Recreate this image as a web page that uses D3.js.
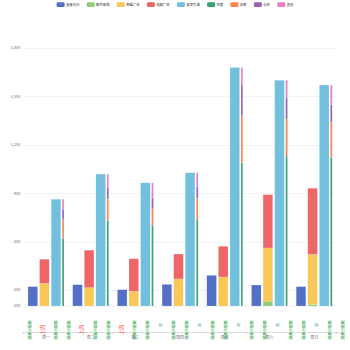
<!DOCTYPE html>
<html>
<head>
<meta charset="utf-8">
<script src="https://cdn.jsdelivr.net/npm/d3@7"></script>
<style>
  body { margin: 0; background: #fff; }
  text { font-family: "Noto Sans CJK SC", "DejaVu Sans", sans-serif; }
</style>
</head>
<body>
<div id="chart"></div>
<script>
// categories and series
const days = ['周一', '周二', '周三', '周四', '周五', '周六', '周日'];
const seriesNames = ['直接访问', '邮件营销', '联盟广告', '视频广告', '搜索引擎', '百度', '谷歌', '必应', '其他'];
const colors = ['#5470c6', '#91cc75', '#fac858', '#ee6666', '#73c0de', '#3ba272', '#fc8452', '#9a60b4', '#ea7ccc'];

const direct = [320, 332, 301, 334, 390, 330, 320];
const email = [120, 132, 101, 134, 90, 230, 210];
const union = [220, 182, 191, 234, 290, 330, 310];
const video = [150, 232, 201, 154, 190, 330, 410];
const search = [862, 1018, 964, 1026, 1679, 1600, 1570];
const baidu = [620, 732, 701, 734, 1090, 1130, 1120];
const google = [120, 132, 101, 134, 290, 230, 220];
const bing = [60, 72, 71, 74, 190, 130, 110];
const others = [62, 82, 91, 84, 109, 110, 120];

const yTicks = [200, 300, 600, 900, 1200, 1500, 1800];

// the odd rotated labels under the bars (g = long green, r = red, s = short green)
const extraKinds = ['g','r','g','g','r','g','g','r','g','g','s','g','g','s','g','g','s','g','g','s','g','g','s','g','g'];
const extraText = {g: '星期一星期', r: '上周', s: '周'};

const W = 350, H = 350;
const svg = d3.select('#chart').append('svg').attr('width', W).attr('height', H);

const y = d3.scaleLinear().domain([200, 1800]).range([306, 48]);
const x = d3.scaleBand().domain(days).range([23.6, 336.5]);
const cols = d3.scaleBand().domain(['direct', 'ad', 'search']).range([4.4, 37.2]).paddingInner(0.17);

// grid lines
svg.append('g').selectAll('line').data(yTicks).join('line')
  .attr('x1', 23.6).attr('x2', 336.5)
  .attr('y1', d => Math.round(y(d)) + 0.5).attr('y2', d => Math.round(y(d)) + 0.5)
  .style('stroke', '#E0E6F1').style('stroke-width', 0.5);

// y labels
svg.append('g').selectAll('text').data(yTicks).join('text')
  .attr('x', 20.5).attr('y', d => y(d) + 1.4)
  .attr('text-anchor', 'end')
  .style('font-size', '4px').style('fill', '#6E7079')
  .text(d => d3.format(',')(d));

// stacked series drawing
function drawStack(list, width, offset) {
  const base = days.map(() => 0);
  list.forEach(s => {
    svg.append('g').selectAll('rect').data(s.values).join('rect')
      .attr('x', (d, i) => x(days[i]) + offset)
      .attr('width', width)
      .attr('y', (d, i) => y(Math.max(200, base[i] + d)))
      .attr('height', (d, i) => Math.max(0, y(Math.max(200, base[i])) - y(Math.max(200, base[i] + d))))
      .style('fill', s.color)
      .style('stroke', 'rgba(255,255,255,0.35)').style('stroke-width', 0.4);
    s.values.forEach((d, i) => base[i] += d);
  });
}

drawStack([{values: direct, color: colors[0]}], cols.bandwidth(), cols('direct'));
drawStack([
  {values: email, color: colors[1]},
  {values: union, color: colors[2]},
  {values: video, color: colors[3]}
], cols.bandwidth(), cols('ad'));
drawStack([{values: search, color: colors[4]}], cols.bandwidth(), cols('search'));
drawStack([
  {values: baidu, color: colors[5]},
  {values: google, color: colors[6]},
  {values: bing, color: colors[7]},
  {values: others, color: colors[8]}
], 1.8, cols.range()[1] + 1.4);

// x axis line and ticks (sits below the grid)
const axisY = 332.5;
svg.append('line').attr('x1', 22.5).attr('x2', 345).attr('y1', axisY).attr('y2', axisY)
  .style('stroke', '#ccc').style('stroke-width', 0.7);
svg.append('g').selectAll('line').data(days.concat(['end'])).join('line')
  .attr('x1', (d, i) => x.range()[0] + i * x.step()).attr('x2', (d, i) => x.range()[0] + i * x.step())
  .attr('y1', axisY).attr('y2', axisY + 1.6)
  .style('stroke', '#bbb').style('stroke-width', 0.5);

// rotated labels
const ex = d3.scaleLinear().domain([0, extraKinds.length - 1]).range([30, 343]);
const eg = svg.append('g').selectAll('g').data(extraKinds).join('g')
  .attr('transform', (d, i) => `translate(${ex(i)},${d === 's' ? 325 : 330}) rotate(-90)`);
eg.filter(d => d === 'g').append('rect')
  .attr('x', -10).attr('y', -1.8).attr('width', 20).attr('height', 3.6)
  .style('fill', '#d6efcc');
eg.append('text')
  .attr('text-anchor', 'middle').attr('y', 1.3)
  .style('font-size', d => d === 'r' ? '5px' : '3.6px')
  .style('fill', d => d === 'r' ? '#ff4d4f' : '#3ba272')
  .text(d => extraText[d]);

// category labels
svg.append('g').selectAll('text').data(days).join('text')
  .attr('x', d => x(d) + x.bandwidth() / 2).attr('y', 339)
  .attr('text-anchor', 'middle')
  .style('font-size', '4px').style('fill', '#6E7079')
  .text(d => d);

// legend
const legend = svg.append('g');
let lx = 0;
seriesNames.forEach((name, i) => {
  const item = legend.append('g').attr('transform', `translate(${lx},0)`);
  item.append('rect').attr('x', 0).attr('y', 2.3).attr('width', 8).attr('height', 4.6).attr('rx', 1.2)
    .style('fill', colors[i]);
  const t = item.append('text').attr('x', 9.4).attr('y', 6)
    .style('font-size', '3.35px').style('fill', '#333').text(name);
  lx += 9.4 + t.node().getComputedTextLength() + 7.3;
});
const lw = lx - 7.3;
legend.attr('transform', `translate(${175 - lw / 2},0)`);
</script>
</body>
</html>
